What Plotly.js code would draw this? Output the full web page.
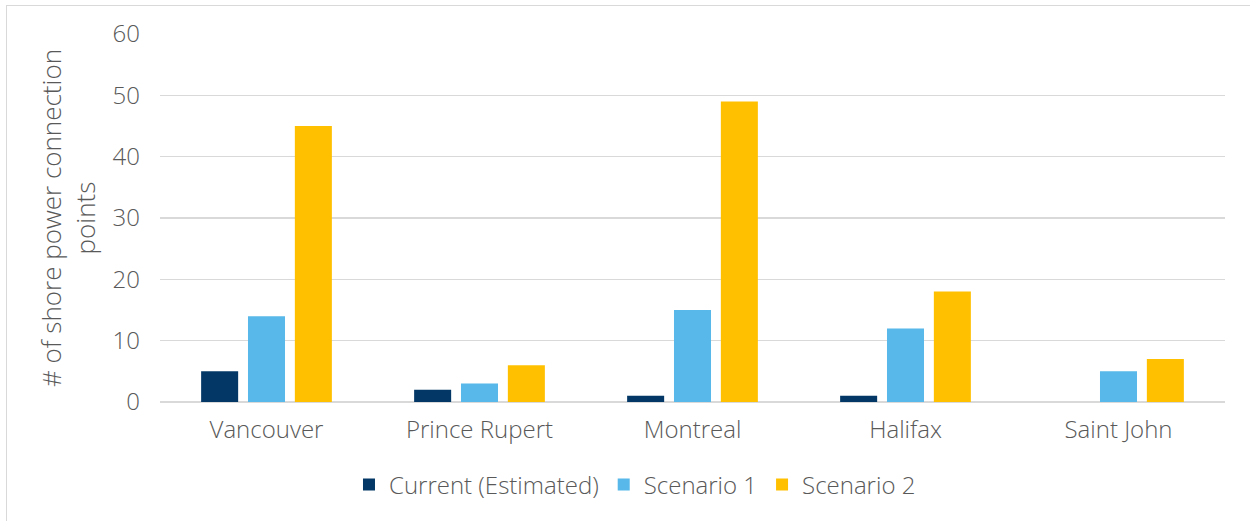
<!DOCTYPE html>
<html>
<head>
<meta charset="utf-8">
<script src="https://cdn.plot.ly/plotly-3.0.1.min.js"></script>
<style>
html,body{margin:0;padding:0;background:#fff;overflow:hidden;}
#frame{position:absolute;left:6px;top:5px;width:1300px;height:600px;border:1px solid #d9d9d9;box-sizing:border-box;}
#chart{position:absolute;left:0;top:0;width:1250px;height:521px;}
</style>
</head>
<body>
<div id="frame"></div>
<div id="chart"></div>
<script>
const ports = ["Vancouver", "Prince Rupert", "Montreal", "Halifax", "Saint John"];
const currentEstimated = [5, 2, 1, 1, 0];
const scenario1 = [14, 3, 15, 12, 5];
const scenario2 = [45, 6, 49, 18, 7];
const seriesNames = ["Current (Estimated)", "Scenario 1", "Scenario 2"];
const yTicks = [0, 10, 20, 30, 40, 50, 60];

const colors = ["#033866", "#57B8E9", "#FFC000"];
const values = [currentEstimated, scenario1, scenario2];

const traces = values.map((v, i) => ({
  type: "bar",
  name: seriesNames[i],
  x: ports,
  y: v,
  marker: {color: colors[i], line: {width: 0}},
  hoverinfo: "x+y+name"
}));

const font = "'Open Sans', Lato, sans-serif";
const fs = 24;
const tf = {family: font, size: fs, color: "#595959", weight: 300};
const layout = {
  width: 1250,
  height: 521,
  margin: {l: 160, r: 25, t: 34, b: 119, pad: 0},
  paper_bgcolor: "rgba(0,0,0,0)",
  plot_bgcolor: "rgba(0,0,0,0)",
  barmode: "group",
  bargap: 0.34,
  bargroupgap: 0.21,
  font: tf,
  xaxis: {
    type: "category",
    showgrid: false,
    showline: false,
    zeroline: false,
    ticks: "",
    ticklabelstandoff: 11,
    tickfont: tf
  },
  yaxis: {
    range: [0, 60],
    tickvals: yTicks,
    ticktext: yTicks.map(String),
    showgrid: true,
    gridcolor: "#d9d9d9",
    gridwidth: 1.5,
    zeroline: true,
    zerolinecolor: "#d9d9d9",
    zerolinewidth: 1.5,
    showline: false,
    ticks: "",
    ticklabelstandoff: 19,
    tickfont: tf,
    title: {
      text: "# of shore power connection<br>points",
      font: {family: font, size: 26, color: "#595959", weight: 300},
      standoff: 9
    }
  },
  showlegend: true,
  legend: {
    orientation: "h",
    x: 0.446,
    xanchor: "center",
    y: -0.225,
    yanchor: "middle",
    font: tf,
    itemwidth: 30,
    traceorder: "normal",
    bgcolor: "rgba(0,0,0,0)"
  }
};

Plotly.newPlot("chart", traces, layout, {displayModeBar: false, staticPlot: true});
</script>
</body>
</html>
